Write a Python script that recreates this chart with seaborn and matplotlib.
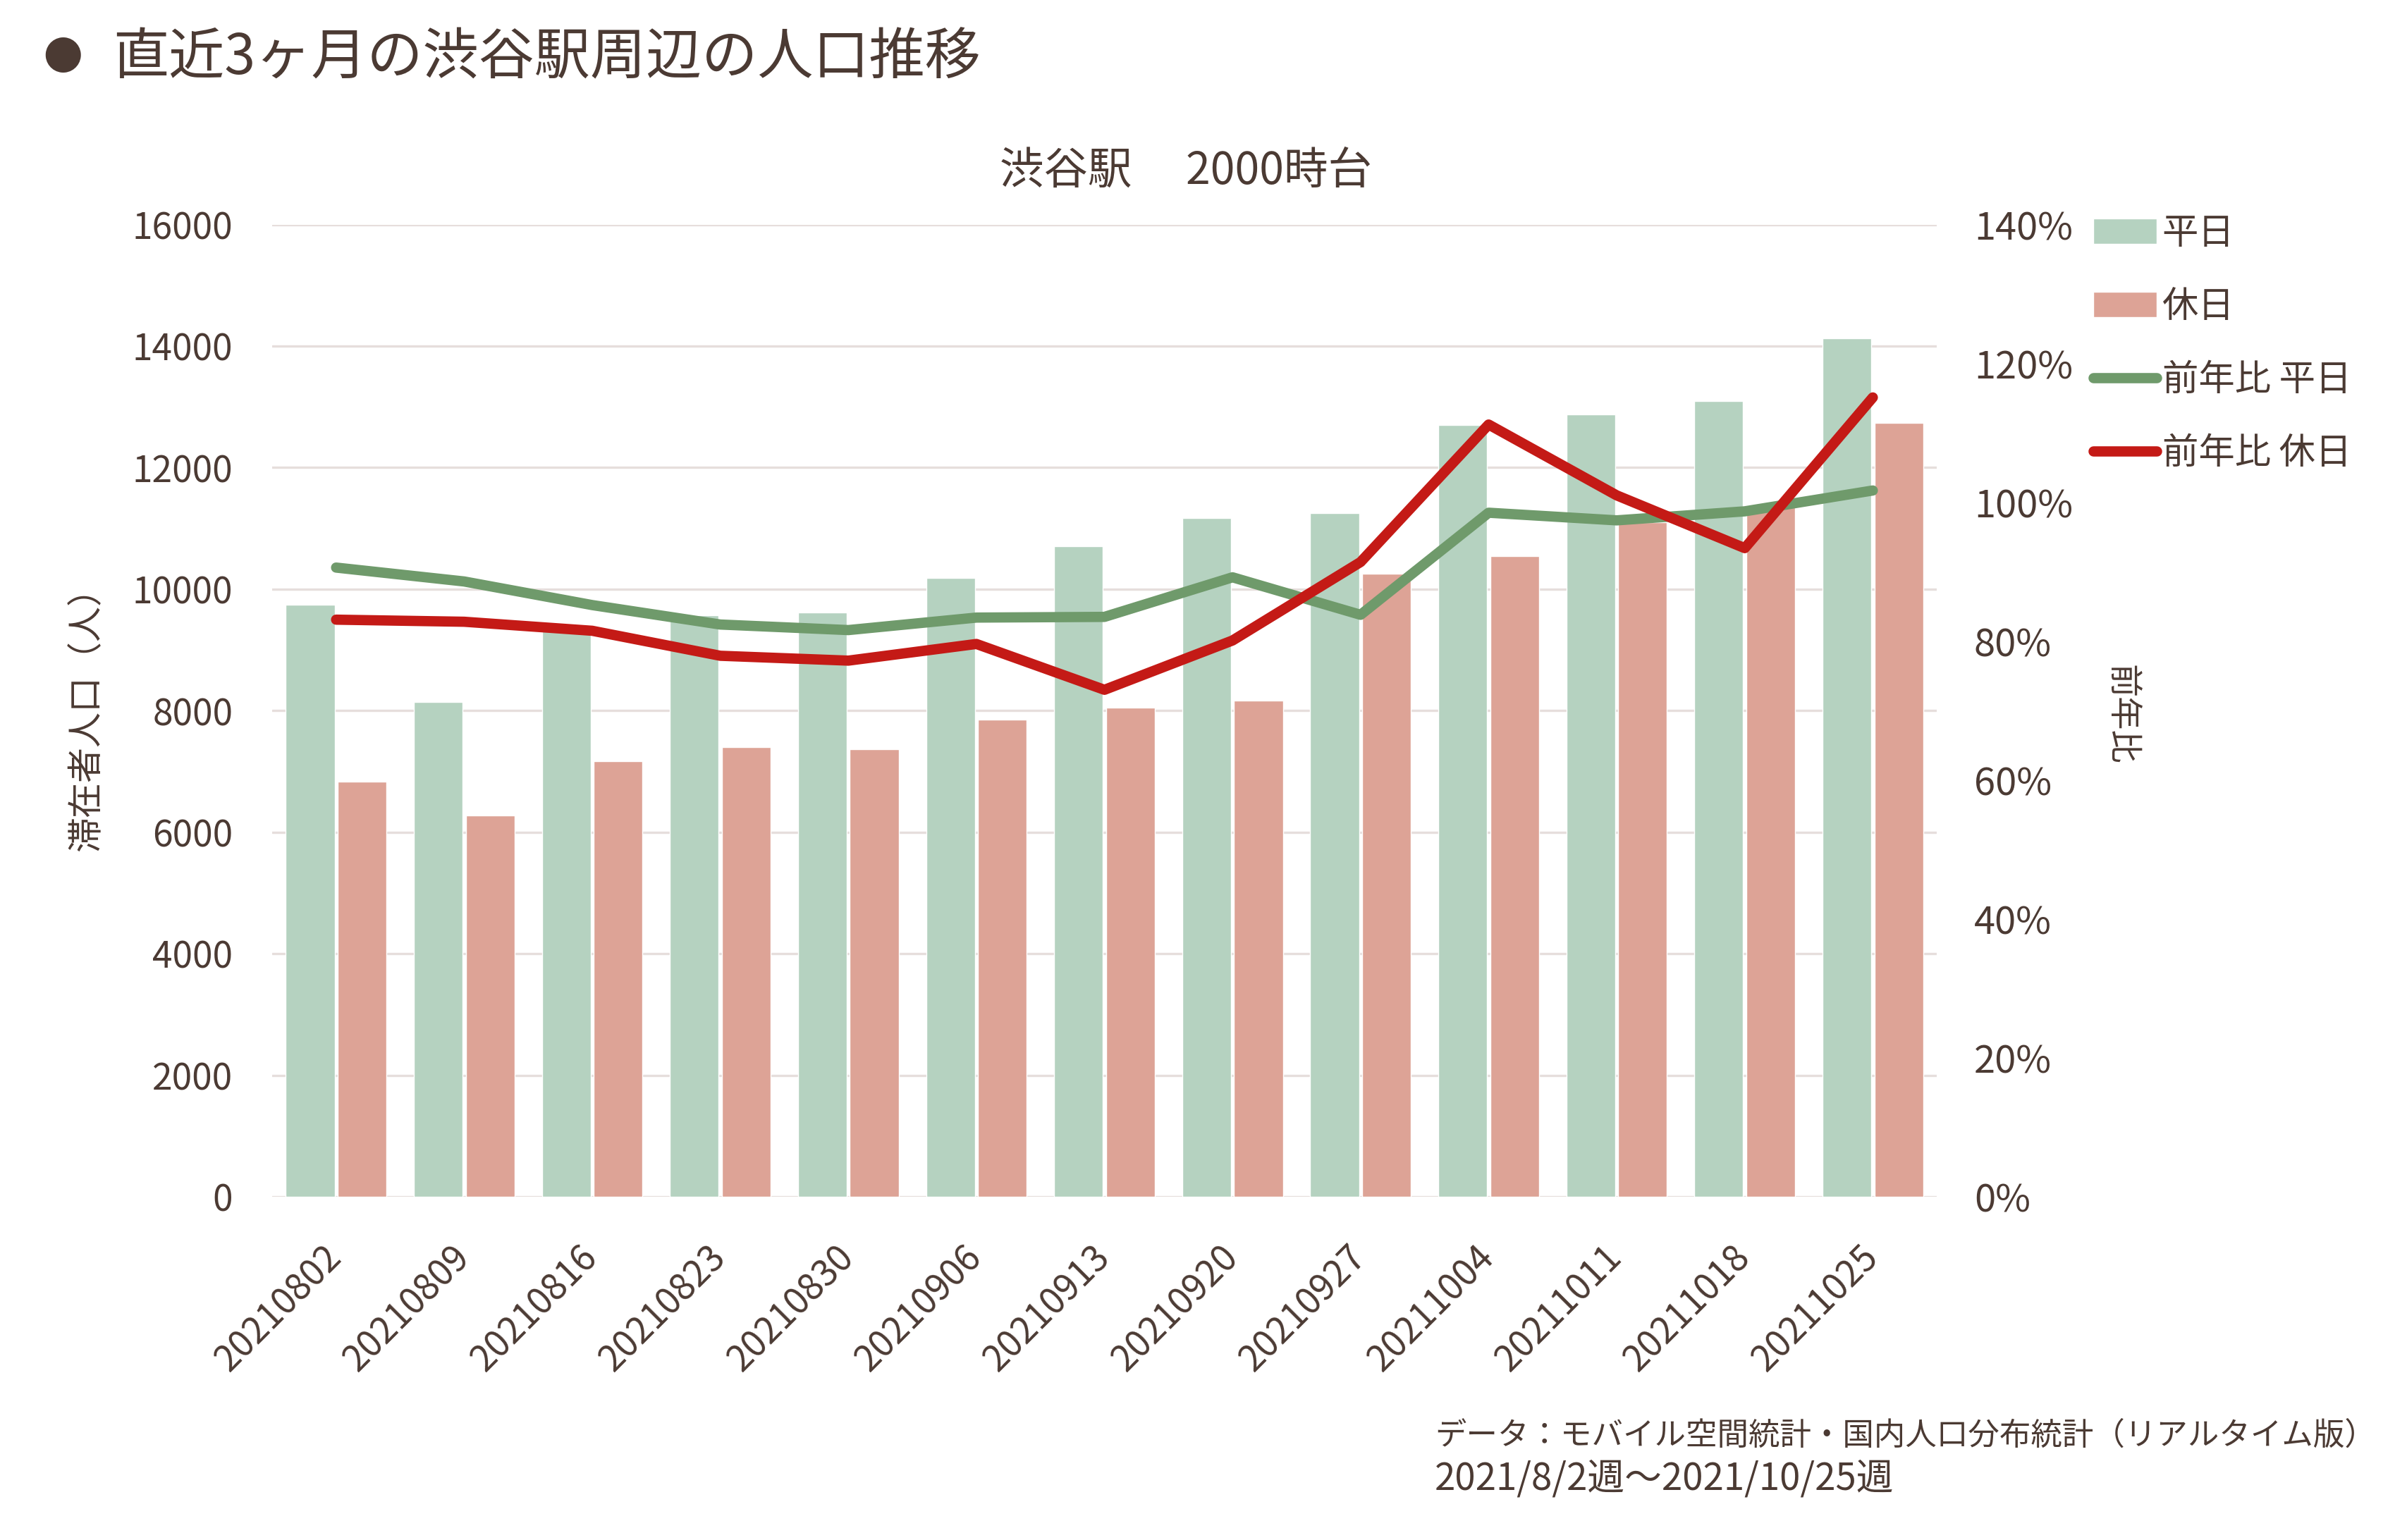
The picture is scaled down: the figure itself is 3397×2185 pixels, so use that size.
import numpy as np
import pandas as pd
import matplotlib
matplotlib.use('Agg')
import matplotlib.pyplot as plt
from matplotlib.ticker import FuncFormatter
import seaborn as sns

# ── Colours ────────────────────────────────────────────────────────
TEXT      = '#4B3A33'
GRID      = '#E6DEDC'
BAR_WD    = '#B5D2C0'
BAR_HD    = '#DDA396'
LINE_WD   = '#6F9A6B'
LINE_HD   = '#C41A16'

# ── Data ───────────────────────────────────────────────────────────
weeks = ['20210802', '20210809', '20210816', '20210823', '20210830', '20210906',
         '20210913', '20210920', '20210927', '20211004', '20211011', '20211018',
         '20211025']
weekday_pop = [9740, 8140, 9350, 9570, 9610, 10180, 10700, 11170, 11250, 12700,
               12870, 13100, 14130]
holiday_pop = [6830, 6270, 7170, 7400, 7360, 7850, 8050, 8160, 10250, 10540,
               11100, 11370, 12740]
yoy_weekday = [90.6, 88.6, 85.2, 82.4, 81.6, 83.4, 83.5, 89.2, 83.8, 98.5,
               97.4, 98.7, 101.7]
yoy_holiday = [83.1, 82.8, 81.5, 77.9, 77.2, 79.6, 73.0, 80.1, 91.4, 111.2,
               101.0, 93.4, 115.1]
kinds = ['平日', '休日']
left_ticks = list(range(0, 16001, 2000))
right_ticks = list(range(0, 141, 20))

bars_df = pd.DataFrame({
    'week': weeks * 2,
    'pop': weekday_pop + holiday_pop,
    'kind': [kinds[0]] * len(weeks) + [kinds[1]] * len(weeks),
})

# ── Theme ──────────────────────────────────────────────────────────
sns.set_theme(style='white')
plt.rcParams['font.family'] = ['Noto Sans CJK JP', 'DejaVu Sans']
plt.rcParams['text.color'] = TEXT
plt.rcParams['axes.labelcolor'] = TEXT
plt.rcParams['xtick.color'] = TEXT
plt.rcParams['ytick.color'] = TEXT

fig = plt.figure(figsize=(33.97, 21.85), dpi=100)
ax = fig.add_axes([0.1136, 0.2229, 0.6951, 0.6313])

sns.barplot(data=bars_df, x='week', y='pop', hue='kind', hue_order=kinds,
            palette=[BAR_WD, BAR_HD], width=0.81, gap=0.06, ax=ax,
            saturation=1, legend=True)
bar_handles, bar_labels = ax.get_legend_handles_labels()
ax.get_legend().remove()

ax.set_xlim(-0.5, len(weeks) - 0.5)
ax.set_ylim(0, 16000)
ax.set_yticks(left_ticks)
ax.grid(axis='y', color=GRID, linewidth=2.4, zorder=0)
ax.set_axisbelow(True)
for s in ax.spines.values():
    s.set_visible(False)
ax.tick_params(axis='both', length=0, labelsize=37)
ax.tick_params(axis='y', pad=40)
ax.tick_params(axis='x', pad=56)
plt.setp(ax.get_xticklabels(), rotation=45, ha='right', va='center',
         rotation_mode='anchor')
ax.set_xlabel('')
ax.set_ylabel('滞在者人口（人）', fontsize=36)
ax.yaxis.set_label_coords(-0.10, 0.50)

# ── Right axis: year-over-year lines ──────────────────────────────
ax2 = ax.twinx()
xpos = np.arange(len(weeks))
sns.lineplot(x=xpos, y=yoy_weekday, ax=ax2, color=LINE_WD, linewidth=10.5,
             sort=False, label='前年比 平日', solid_capstyle='round')
sns.lineplot(x=xpos, y=yoy_holiday, ax=ax2, color=LINE_HD, linewidth=10.5,
             sort=False, label='前年比 休日', solid_capstyle='round')
line_handles, line_labels = ax2.get_legend_handles_labels()
ax2.get_legend().remove()

ax2.set_ylim(0, 140)
ax2.set_yticks(right_ticks)
ax2.yaxis.set_major_formatter(FuncFormatter(lambda v, p: f'{int(v)}%'))
for s in ax2.spines.values():
    s.set_visible(False)
ax2.tick_params(axis='y', length=0, labelsize=39, pad=38)
ax2.grid(False)
ax2.set_ylabel('前年比', fontsize=34, rotation=270, va='center')
ax2.yaxis.set_label_coords(1.111, 0.496)

# ── Legend ─────────────────────────────────────────────────────────
fig.legend(bar_handles + line_handles, bar_labels + line_labels,
           loc='upper left', bbox_to_anchor=(0.868, 0.870), frameon=False,
           fontsize=37, handlelength=1.75, handletextpad=0.15, labelspacing=0.98,
           borderaxespad=0)

# ── Titles and notes ──────────────────────────────────────────────
fig.text(0.0262, 0.962, '●', fontsize=40, color=TEXT, ha='center', va='center')
fig.text(0.047, 0.962, '直近3ヶ月の渋谷駅周辺の人口推移', fontsize=57,
         color=TEXT, ha='left', va='center')
fig.text(0.495, 0.889, '渋谷駅\u3000 2000時台', fontsize=45,
         color=TEXT, ha='center', va='center')
fig.text(0.599, 0.068, 'データ：モバイル空間統計・国内人口分布統計（リアルタイム版）',
         fontsize=32, color=TEXT, ha='left', va='center')
fig.text(0.599, 0.040, '2021/8/2週〜2021/10/25週', fontsize=38, color=TEXT,
         ha='left', va='center')

fig.savefig('out.png', dpi=100, facecolor='white')
